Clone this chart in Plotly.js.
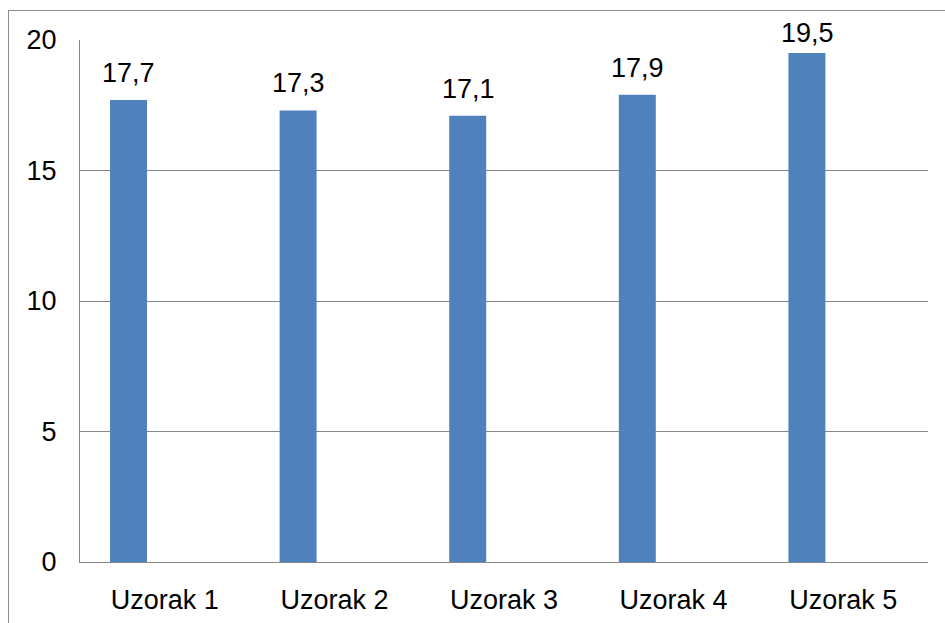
<!DOCTYPE html>
<html>
<head>
<meta charset="utf-8">
<script src="https://cdn.plot.ly/plotly-3.0.1.min.js"></script>
<style>
html, body { margin: 0; padding: 0; background: #fff; overflow: hidden; }
#frame { position: absolute; left: 8px; top: 10px; width: 1000px; height: 700px; border: 1px solid #8c8c8c; pointer-events: none; z-index: 5; }
#chart { position: absolute; left: 0; top: 0; width: 945px; height: 623px; }
</style>
</head>
<body>
<div id="chart"></div>
<div id="frame"></div>
<script>
const categories = ['Uzorak 1', 'Uzorak 2', 'Uzorak 3', 'Uzorak 4', 'Uzorak 5'];
const values = [17.7, 17.3, 17.1, 17.9, 19.5];
const labels = ['17,7', '17,3', '17,1', '17,9', '19,5'];
const yTicks = [0, 5, 10, 15, 20];

const font = { family: 'Liberation Sans, Arial, sans-serif', size: 27, color: '#000' };

const trace = {
  type: 'bar',
  x: categories,
  y: values,
  width: 0.218,
  offset: -0.323,
  marker: { color: '#4F81BD', line: { width: 0 } },
  hoverinfo: 'skip'
};

const annotations = categories.map((c, i) => ({
  x: c, y: values[i], xref: 'x', yref: 'y',
  text: labels[i], showarrow: false,
  xshift: -36, yshift: values[i] > 19 ? 20 : 27,
  font: Object.assign({}, font)
}));

const layout = {
  width: 945, height: 623,
  margin: { l: 80, r: 17, t: 40, b: 61 },
  paper_bgcolor: '#fff', plot_bgcolor: '#fff',
  separators: ',.',
  showlegend: false,
  font: Object.assign({}, font),
  xaxis: {
    type: 'category',
    showline: true, linecolor: '#868686', linewidth: 1,
    showgrid: false, zeroline: false,
    ticks: '', ticklabelstandoff: 14,
    tickfont: Object.assign({}, font)
  },
  yaxis: {
    range: [0, 20],
    tickvals: yTicks,
    showline: true, linecolor: '#868686', linewidth: 1,
    showgrid: true, gridcolor: '#868686', gridwidth: 1,
    zeroline: false,
    ticks: '', ticklabelstandoff: 17,
    tickfont: Object.assign({}, font)
  },
  annotations: annotations
};

Plotly.newPlot('chart', [trace], layout, { displayModeBar: false, staticPlot: true });
</script>
</body>
</html>
